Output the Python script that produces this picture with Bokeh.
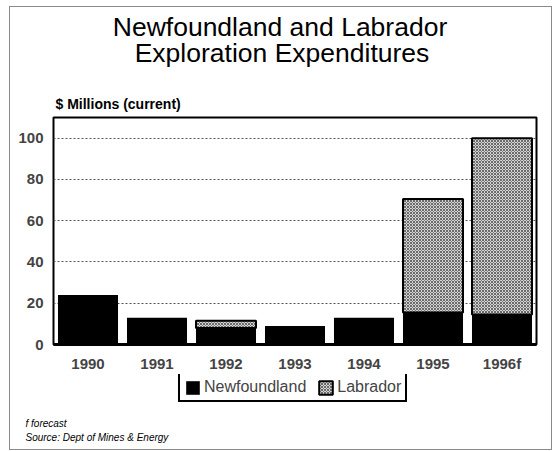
from bokeh.plotting import figure
from bokeh.models import Legend, LegendItem, FixedTicker, Title, Label, Range1d
from bokeh.layouts import column
from bokeh.embed import file_html
from bokeh.resources import INLINE

years = ["1990", "1991", "1992", "1993", "1994", "1995", "1996f"]
newfoundland = [23.5, 12.5, 8.0, 8.5, 12.5, 15.5, 14.5]
labrador = [0, 0, 3.5, 0, 0, 55.0, 85.5]
y_ticks = [0, 20, 40, 60, 80, 100]
series = ["Newfoundland", "Labrador"]
title_lines = ["Newfoundland and Labrador", "Exploration Expenditures"]
y_caption = "$ Millions (current)"
footnotes = ["f forecast", "Source: Dept of Mines & Energy"]

FONT = "Liberation Sans"
NF_STYLE = dict(fill_color="black", line_color="black", line_width=0)
LAB_STYLE = dict(fill_color="#d4d4d4", line_color="black", line_width=2,
                 hatch_pattern="diagonal_cross", hatch_color="#6a6a6a",
                 hatch_scale=3, hatch_weight=1)
W = 541
BORDER_L, BORDER_R = 43, 15

def strip(height, y_top, y_bottom, bottom_border=0):
    f = figure(width=W, height=height, x_range=(53, 536), y_range=Range1d(y_bottom, y_top),
               x_axis_type=None, y_axis_type=None, output_backend="svg",
               toolbar_location=None, min_border_left=BORDER_L, min_border_right=BORDER_R,
               min_border_top=0, min_border_bottom=bottom_border)
    f.outline_line_color = None
    return f

# top strip: titles (y in page pixels, flipped range)
t = strip(108, 7, 115)
for txt, xx, yy in zip(title_lines, [279.5, 281.5], [26, 52]):
    t.add_layout(Label(x=xx, y=yy, text=txt, text_font=FONT, text_font_size="26.5px",
                       text_align="center", text_baseline="middle", text_color="black"))
t.add_layout(Label(x=55, y=103.5, text=y_caption, text_font=FONT, text_font_size="14px",
                   text_font_style="bold", text_baseline="middle", text_color="black"))

# main chart
p = figure(x_range=years, y_range=(0, 110), width=W, height=259,
           output_backend="svg", toolbar_location=None,
           min_border_left=BORDER_L, min_border_right=BORDER_R, min_border_top=2, min_border_bottom=30)

data = dict(year=years, Newfoundland=newfoundland, Labrador=labrador)
r = p.vbar_stack(series, x="year", width=0.87, source=data,
                 fill_color=[NF_STYLE["fill_color"], LAB_STYLE["fill_color"]],
                 line_color="black", line_width=[0, 2])
for k in ("hatch_pattern", "hatch_color", "hatch_scale", "hatch_weight"):
    setattr(r[1].glyph, k, LAB_STYLE[k])

p.outline_line_color = "black"
p.outline_line_width = 2
p.xgrid.grid_line_color = None
p.ygrid.grid_line_color = "#555555"
p.ygrid.grid_line_dash = "2 2"
p.ygrid.grid_line_width = 1
p.yaxis.ticker = FixedTicker(ticks=y_ticks)
p.yaxis.minor_tick_line_color = None
p.yaxis.major_tick_line_color = None
p.yaxis.major_tick_out = 0
p.yaxis.axis_line_color = None
p.yaxis.major_label_text_font = FONT
p.yaxis.major_label_text_font_style = "bold"
p.yaxis.major_label_text_font_size = "15px"
p.yaxis.major_label_standoff = 10
p.xaxis.major_tick_line_color = None
p.xaxis.major_tick_out = 0
p.xaxis.axis_line_color = "black"
p.xaxis.axis_line_width = 3
p.xaxis.major_label_text_font = FONT
p.xaxis.major_label_text_font_style = "bold"
p.xaxis.major_label_text_font_size = "15px"
p.xaxis.major_label_standoff = 10
p.x_range.range_padding = 0

# bottom strip: legend and footnotes
q = strip(75, 374, 414, bottom_border=35)
d_nf = q.vbar(x=[0], top=[0], width=0, visible=False, **NF_STYLE)
d_lab = q.vbar(x=[0], top=[0], width=0, visible=False, **LAB_STYLE)
legend = Legend(items=[LegendItem(label=series[0], renderers=[d_nf]),
                       LegendItem(label=series[1], renderers=[d_lab])],
                location=(125, 12), orientation="horizontal",
                border_line_color="black", border_line_width=2, border_line_alpha=1,
                inactive_fill_alpha=0,
                padding=4, spacing=11, margin=0, glyph_width=17, glyph_height=17,
                label_standoff=3, label_text_font=FONT, label_text_font_size="16px",
                label_height=17)
q.add_layout(legend, "center")
for txt, so in zip(footnotes, [2, 0]):
    q.add_layout(Title(text=txt, text_font=FONT, text_font_size="10px",
                       text_font_style="italic", align="left", offset=-28,
                       standoff=so, text_color="black"), "below")

layout = column(t, p, q, spacing=0)
layout.margin = (7, 7, 2, 10)
layout.styles = {"outline": "1px solid #8a8a8a"}

open("out.html", "w").write(file_html(layout, INLINE))
